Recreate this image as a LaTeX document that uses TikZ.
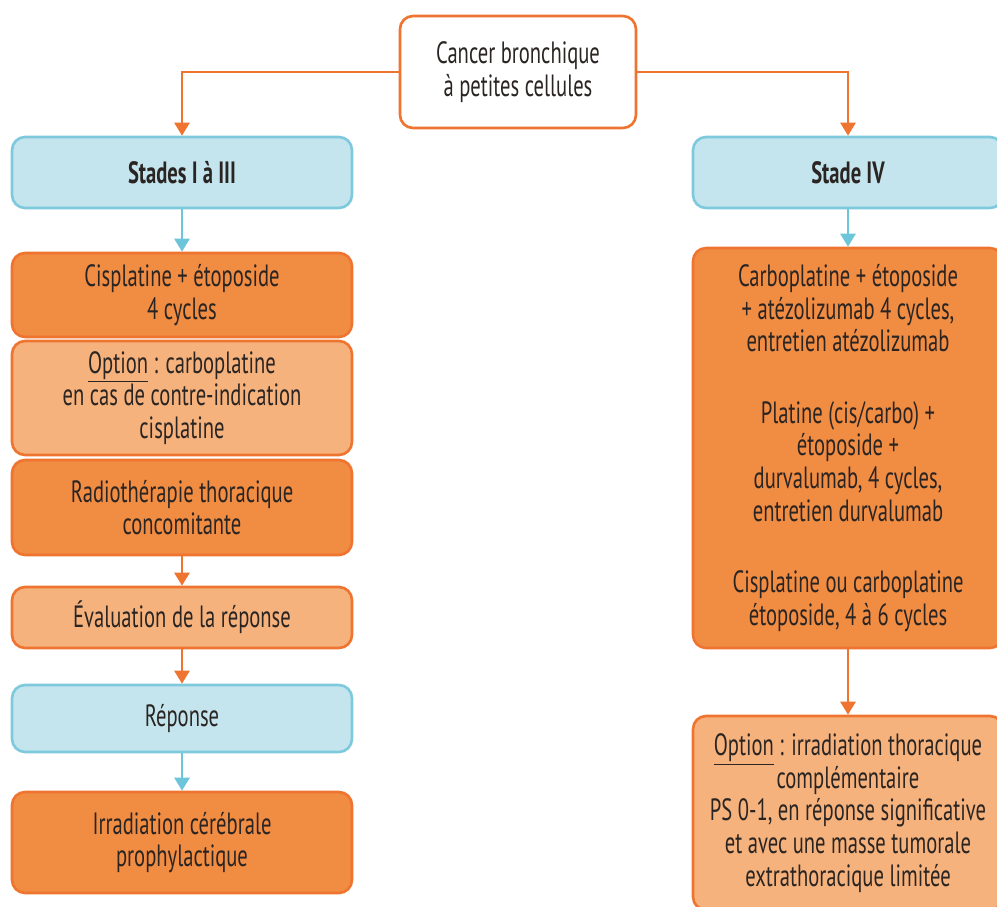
\documentclass[tikz,border=0pt]{standalone}
\usepackage{fontspec}
\setmainfont{PT Sans}[FakeStretch=0.67]
\usetikzlibrary{arrows.meta}

\definecolor{orgline}{HTML}{EE7430}
\definecolor{orgfill}{HTML}{F18C43}
\definecolor{orglight}{HTML}{F6B27D}
\definecolor{bluefill}{HTML}{C4E5ED}
\definecolor{blueline}{HTML}{7ECADC}
\definecolor{bluearrow}{HTML}{6DC5D9}
\definecolor{txt}{HTML}{2A2522}

\newcommand{\ul}[1]{\underline{#1}}

\tikzset{
  box/.style={rectangle, rounded corners=0.26cm, line width=1.5pt, align=center,
    text=txt, inner sep=0pt, font=\fontsize{17.5}{18.6}\selectfont},
  startbox/.style={box, draw=orgline, fill=white},
  stagebox/.style={box, draw=blueline, fill=bluefill},
  darkbox/.style={box, draw=orgline, fill=orgfill},
  lightbox/.style={box, draw=orgline, fill=orglight},
  orgarrow/.style={draw=orgline, line width=1.5pt, -{Triangle[length=0.26cm,width=0.3cm]}},
  bluearrowstyle/.style={draw=bluearrow, line width=1.5pt, -{Triangle[length=0.26cm,width=0.3cm]}},
}

\begin{document}
\begin{tikzpicture}[x=0.02cm, y=-0.02cm]
\useasboundingbox (0,0) rectangle (997,906);

% Root
\node[startbox, minimum width=4.72cm, minimum height=2.24cm] (root) at (518,72)
  {Cancer bronchique\\à petites cellules};

% Left column: stages I to III
\node[stagebox, font=\fontsize{17.5}{18.6}\selectfont\bfseries, minimum width=6.8cm, minimum height=1.42cm] (st13) at (182,172.5) {Stades I à III};
\node[darkbox, minimum width=6.8cm, minimum height=1.68cm] (cis) at (182,295)
  {Cisplatine + étoposide\\4 cycles};
\node[lightbox, minimum width=6.8cm, minimum height=2.28cm] (opt1) at (182,398)
  {\ul{Option} : carboplatine\\en cas de contre-indication\\cisplatine};
\node[darkbox, minimum width=6.8cm, minimum height=1.9cm] (radio) at (182,507.5)
  {Radiothérapie thoracique\\concomitante};
\node[lightbox, minimum width=6.8cm, minimum height=1.22cm] (eval) at (182,617.5)
  {Évaluation de la réponse};
\node[stagebox, minimum width=6.8cm, minimum height=1.34cm] (rep) at (182,718.5)
  {Réponse};
\node[darkbox, minimum width=6.8cm, minimum height=2.02cm] (irr) at (182,842.5)
  {Irradiation cérébrale\\prophylactique};

% Right column: stage IV
\node[stagebox, font=\fontsize{17.5}{18.6}\selectfont\bfseries, minimum width=6.2cm, minimum height=1.42cm] (st4) at (848,172.5) {Stade IV};
\node[darkbox, minimum width=6.2cm, minimum height=8cm] (chemo) at (848,448)
  {Carboplatine + étoposide\\+ atézolizumab 4 cycles,\\entretien atézolizumab\\[22pt]
   Platine (cis/carbo) +\\étoposide +\\durvalumab, 4 cycles,\\entretien durvalumab\\[22pt]
   Cisplatine ou carboplatine\\étoposide, 4 à 6 cycles};
\node[lightbox, minimum width=6.2cm, minimum height=3.88cm] (opt2) at (848,813)
  {\ul{Option} : irradiation thoracique\\complémentaire\\PS 0-1, en réponse significative\\et avec une masse tumorale\\extrathoracique limitée};

% Connectors
\draw[orgarrow] (root.west) -| (st13.north);
\draw[orgarrow] (root.east) -| (st4.north);
\draw[bluearrowstyle] (st13) -- (cis);
\draw[orgarrow] (radio) -- (eval);
\draw[orgarrow] (eval) -- (rep);
\draw[bluearrowstyle] (rep) -- (irr);
\draw[bluearrowstyle] (st4) -- (chemo);
\draw[orgarrow] (chemo) -- (opt2);
\end{tikzpicture}
\end{document}
